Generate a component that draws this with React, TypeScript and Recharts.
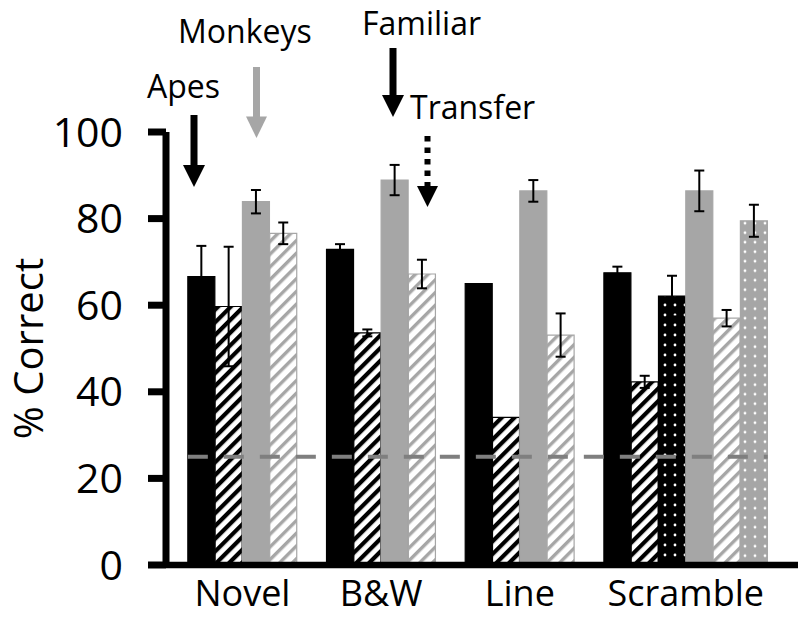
import React from 'react';
import { BarChart, Bar, XAxis, YAxis, Cell, ErrorBar, ReferenceLine } from 'recharts';

const categories = ['Novel', 'B&W', 'Line', 'Scramble'];

// apes, familiar (solid black)
const apesFamiliar = [66.6, 72.9, 65.0, 67.5];
const apesFamiliarErr = [7.1, 1.2, null, 1.4];
// apes, transfer (black hatch)
const apesTransfer = [59.7, 53.6, 34.1, 42.3];
const apesTransferErr = [13.8, 0.8, null, 1.4];
// apes, scramble only (black dots)
const apesDotted = [null, null, null, 62.1];
const apesDottedErr = [null, null, null, 4.7];
// monkeys, familiar (solid gray)
const monkeysFamiliar = [83.9, 88.9, 86.4, 86.4];
const monkeysFamiliarErr = [2.7, 3.5, 2.5, 4.7];
// monkeys, transfer (gray hatch)
const monkeysTransfer = [76.6, 67.2, 53.1, 57.0];
const monkeysTransferErr = [2.5, 3.3, 5.0, 1.9];
// monkeys, scramble only (gray dots)
const monkeysDotted = [null, null, null, 79.5];
const monkeysDottedErr = [null, null, null, 3.7];

const yTicks = [0, 20, 40, 60, 80, 100];
const chanceLevel = 25;

const GRAY = '#a6a6a6';
const FONT = 'Open Sans';

// x axis is measured in bar widths
const X_MAX = 23.15;
const FIRST_GROUP = 0.8;
const GROUP_PITCH = 5.08;

const series = [
  { values: apesFamiliar, errors: apesFamiliarErr, fill: '#000', stroke: '#000' },
  { values: apesTransfer, errors: apesTransferErr, fill: 'url(#hatchBlack)', stroke: '#000' },
  { values: apesDotted, errors: apesDottedErr, fill: 'url(#dotsBlack)', stroke: '#000' },
  { values: monkeysFamiliar, errors: monkeysFamiliarErr, fill: GRAY, stroke: GRAY },
  { values: monkeysTransfer, errors: monkeysTransferErr, fill: 'url(#hatchGray)', stroke: GRAY },
  { values: monkeysDotted, errors: monkeysDottedErr, fill: 'url(#dotsGray)', stroke: GRAY },
];

const rows: any[] = [];
const groupCenters: number[] = [];
let groupEnd = 0;
categories.forEach((cat, g) => {
  const left = FIRST_GROUP + g * GROUP_PITCH;
  let slot = 0;
  series.forEach((s) => {
    const v = s.values[g];
    if (v == null) return;
    rows.push({ pos: left + slot + 0.5, value: v, err: s.errors[g], fill: s.fill, stroke: s.stroke });
    slot++;
  });
  groupCenters.push(left + slot / 2);
  groupEnd = left + slot;
});

const Annotations = () => (
  <svg width={800} height={620} style={{ position: 'absolute', left: 0, top: 0, pointerEvents: 'none' }}>
    <g fontFamily={FONT} fontSize={32} fill="#000">
      <text x={147} y={98}>Apes</text>
      <text x={178} y={43}>Monkeys</text>
      <text x={362} y={35}>Familiar</text>
      <text x={410} y={119}>Transfer</text>
    </g>
    {/* apes */}
    <rect x={190.5} y={115} width={7} height={52} fill="#000" />
    <polygon points="183,165 205,165 194,187" fill="#000" />
    {/* monkeys */}
    <rect x={253} y={67} width={7} height={51} fill={GRAY} />
    <polygon points="246,116.5 267,116.5 256.5,138" fill={GRAY} />
    {/* familiar */}
    <rect x={389.5} y={48} width={7} height={49} fill="#000" />
    <polygon points="382,95 404,95 393,117" fill="#000" />
    {/* transfer */}
    <line x1={427.5} y1={136} x2={427.5} y2={187} stroke="#000" strokeWidth={6} strokeDasharray="5.5 6" />
    <polygon points="417,186 438,186 427.5,207" fill="#000" />
  </svg>
);

const App = () => {
  return (
    <div style={{ position: 'absolute', left: 0, top: 0, width: 800, height: 620, background: '#fff' }}>
      <BarChart width={800} height={620} data={rows} margin={{ top: 132, right: 2, bottom: 0, left: 0 }}>
        <defs>
          <pattern id="hatchBlack" patternUnits="userSpaceOnUse" width={9} height={9} patternTransform="rotate(45)">
            <rect width={9} height={9} fill="#fff" />
            <rect width={4.2} height={9} fill="#000" />
          </pattern>
          <pattern id="hatchGray" patternUnits="userSpaceOnUse" width={9} height={9} patternTransform="rotate(45)">
            <rect width={9} height={9} fill="#fff" />
            <rect width={3.4} height={9} fill={GRAY} />
          </pattern>
          <pattern id="dotsBlack" patternUnits="userSpaceOnUse" width={10} height={10}>
            <rect width={10} height={10} fill="#000" />
            <circle cx={5} cy={5} r={1.4} fill="#fff" />
          </pattern>
          <pattern id="dotsGray" patternUnits="userSpaceOnUse" width={10} height={9.5}>
            <rect width={10} height={9.5} fill={GRAY} />
            <circle cx={5} cy={4.75} r={1.4} fill="#fff" />
          </pattern>
        </defs>
        <XAxis
          type="number"
          dataKey="pos"
          domain={[0, X_MAX]}
          ticks={groupCenters}
          tickFormatter={(v: number) => categories[groupCenters.indexOf(v)] ?? ''}
          interval={0}
          height={55}
          tickLine={false}
          tickMargin={9}
          axisLine={{ stroke: '#000', strokeWidth: 6.5 }}
          tick={{ fill: '#000', fontSize: 36, fontFamily: FONT }}
        />
        <YAxis
          domain={[0, 100]}
          ticks={yTicks}
          width={166}
          tickSize={18}
          tickMargin={25}
          axisLine={{ stroke: '#000', strokeWidth: 7 }}
          tickLine={{ stroke: '#000', strokeWidth: 7 }}
          tick={{ fill: '#000', fontSize: 41, fontFamily: FONT }}
          label={{
            value: '% Correct',
            angle: -90,
            position: 'insideLeft',
            offset: 29,
            style: { textAnchor: 'middle', fontSize: 40, fill: '#000', fontFamily: FONT },
          }}
        />
        <Bar dataKey="value" barSize={27} isAnimationActive={false}>
          {rows.map((r, i) => (
            <Cell key={`cell-${i}`} fill={r.fill} stroke={r.stroke} strokeWidth={1.2} />
          ))}
          <ErrorBar dataKey="err" width={5} stroke="#000" strokeWidth={2} direction="y" />
        </Bar>
        <ReferenceLine
          segment={[{ x: FIRST_GROUP, y: chanceLevel }, { x: groupEnd, y: chanceLevel }]}
          stroke="#7f7f7f"
          strokeWidth={4}
          strokeDasharray="20 16"
        />
      </BarChart>
      <Annotations />
    </div>
  );
};

export default App;
